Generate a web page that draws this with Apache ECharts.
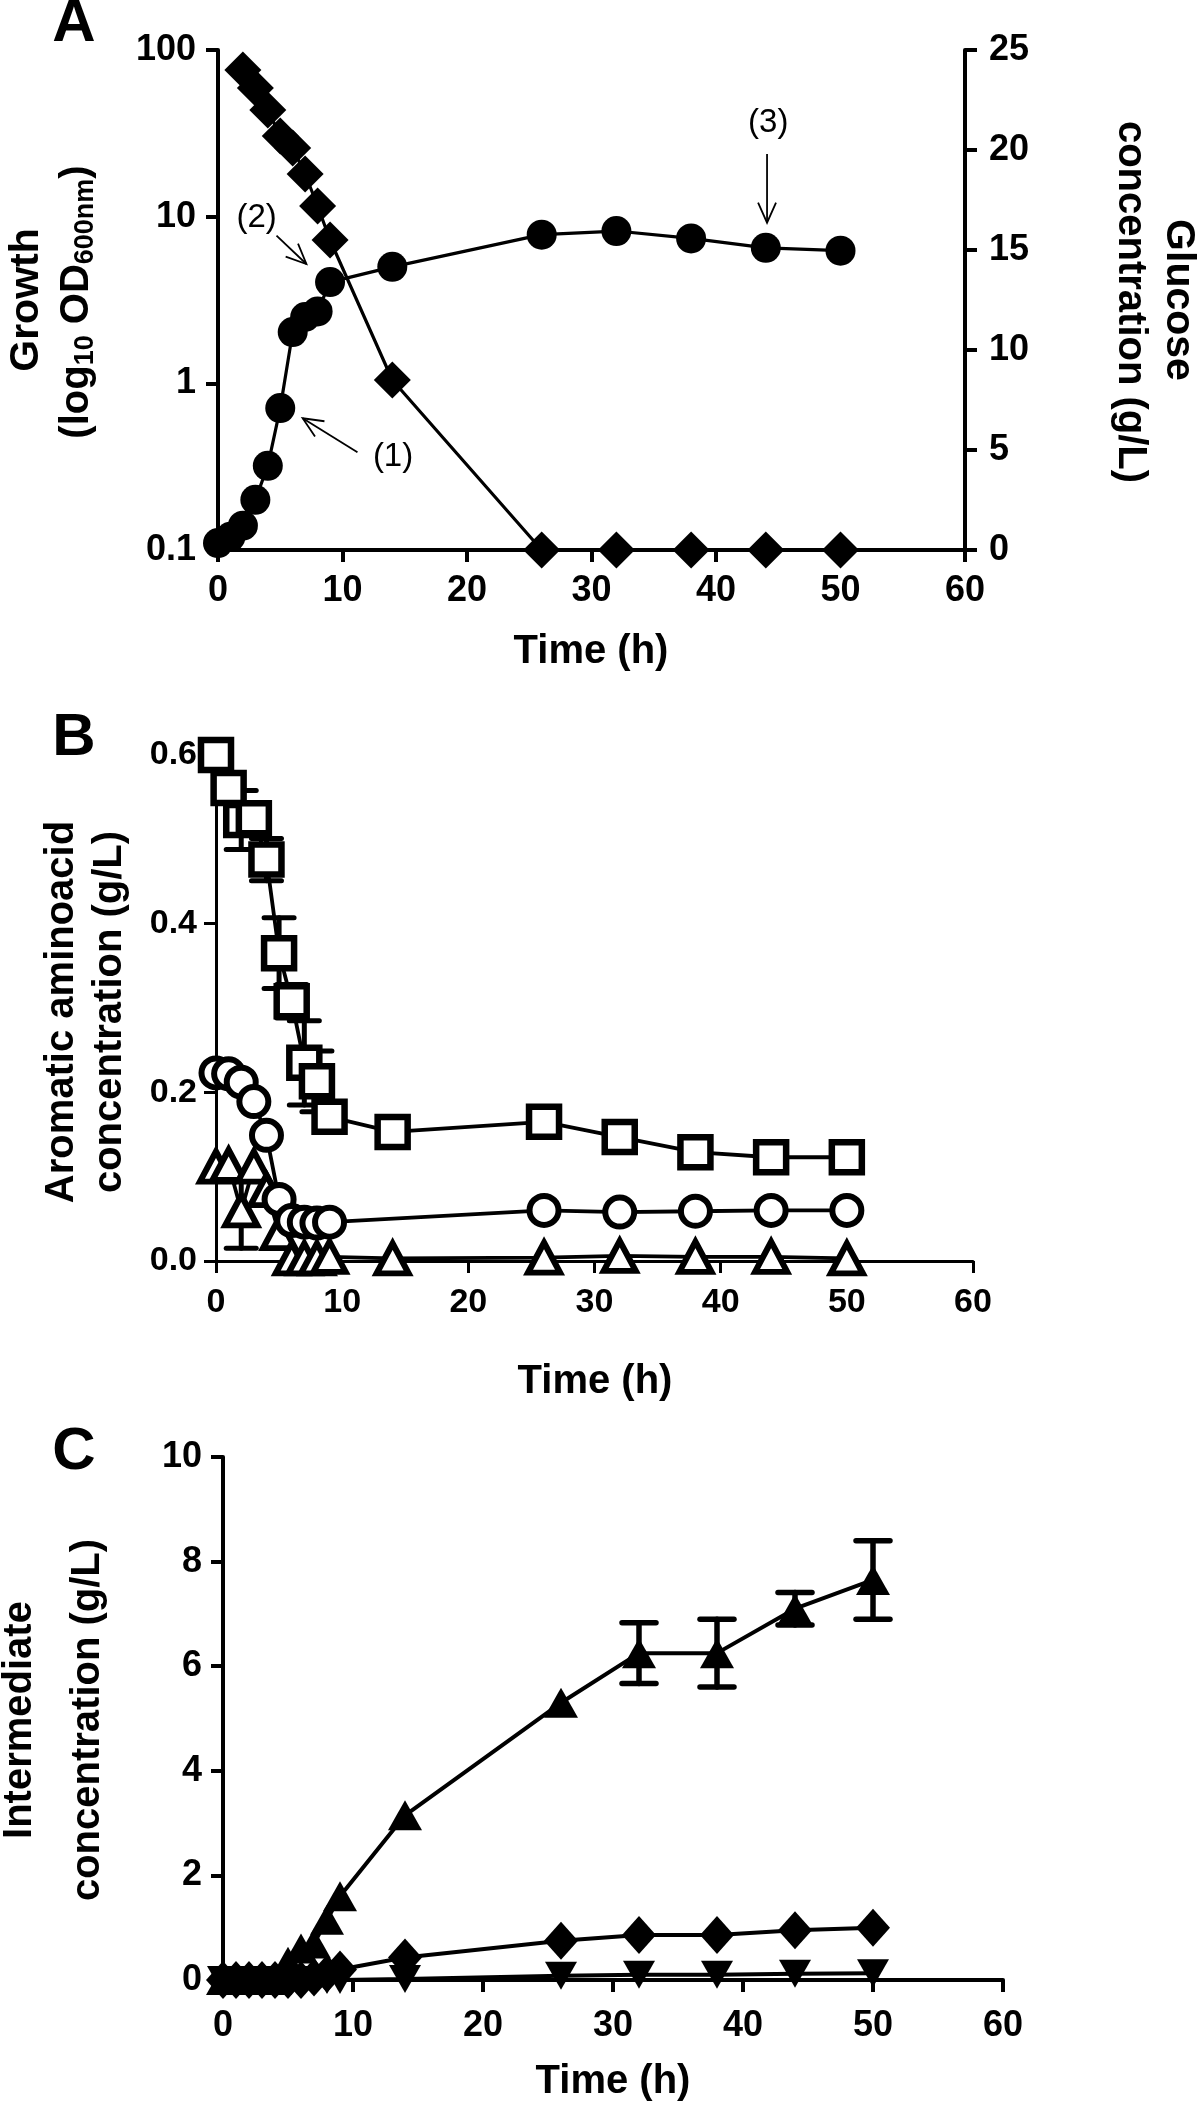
<!DOCTYPE html>
<html><head><meta charset="utf-8">
<script src="https://cdn.jsdelivr.net/npm/echarts@6/dist/echarts.min.js"></script>
<style>html,body{margin:0;padding:0;background:#fff}#c{width:1200px;height:2105px}</style>
</head><body><div id="c"></div>
<script>
// ---------- Panel A ----------
const timeGrowth = [0,1,2,3,4,5,6,7,8,9,14,26,32,38,44,50];
const growthOD   = [0.11,0.12,0.14,0.20,0.32,0.71,2.03,2.5,2.7,4.05,5.0,7.8,8.2,7.4,6.5,6.25];
const timeGlucose = [2,3,4,5,6,7,8,9,14,26,32,38,44,50];
const glucose     = [24.0,23.1,22.0,20.7,20.1,18.8,17.2,15.5,8.5,0,0,0,0,0];
const timeTicks = [0,10,20,30,40,50,60];
const growthTicks = [0.1,1,10,100];
const glucoseTicks = [0,5,10,15,20,25];
// annotations (data coords of the growth axis): label, text pos, arrow start, arrow end
const annotations = [
  {text:'(1)', at:[14.06,0.36], from:[11.2,0.386], to:[6.8,0.617]},
  {text:'(2)', at:[3.1,9.86],  from:[4.7,7.7],   to:[7.1,5.2]},
  {text:'(3)', at:[44.2,36.5], from:[44.1,23.8], to:[44.1,9.2]}
];
// ---------- Panel B ----------
const timeB = [0,1,2,3,4,5,6,7,8,9,14,26,32,38,44,50];
const squaresB = [0.600,0.561,0.523,0.525,0.476,0.365,0.308,0.235,0.213,0.171,0.153,0.165,0.147,0.129,0.123,0.123];
const squaresErr = [0,0,0.035,0,0.025,0.042,0.02,0.05,0.036,0,0,0.01,0,0,0,0];
const timeCircB = [0,1,2,3,4,5,6,7,8,9,26,32,38,44,50];
const circlesB = [0.223,0.222,0.212,0.189,0.149,0.073,0.048,0.046,0.045,0.046,0.060,0.058,0.059,0.060,0.060];
const trianglesB = [0.112,0.114,0.060,0.112,0.084,0.033,0.003,0.003,0.003,0.005,0.003,0.004,0.006,0.005,0.005,0.003];
const trianglesErr = [0,0,0.045,0,0,0,0,0,0,0,0,0,0,0,0,0];
const aromaTicks = [0,0.2,0.4,0.6];
// ---------- Panel C ----------
const timeC = [0,1,2,3,4,5,6,7,8,9,14,26,32,38,44,50];
const upTriC = [0,0,0,0,0,0.35,0.6,0.7,1.15,1.6,3.15,5.3,6.25,6.25,7.1,7.65];
const upTriErr = [0,0,0,0,0,0,0,0,0,0,0,0,0.58,0.65,0.31,0.75];
const diamondC = [0,0,0,0,0,0,0,0.05,0.12,0.2,0.43,0.75,0.86,0.86,0.95,1.0];
const downTriC = [0,0,0,0,0,0,0,0,0,0,0.02,0.08,0.1,0.1,0.12,0.13];
const interTicks = [0,2,4,6,8,10];

const FONT = '"Liberation Sans", Arial, sans-serif';
const zip = (a,b) => a.map((v,i)=>[v,b[i]]);

function valAxis(opts){
  const t = opts.ticks;
  const ax = {
    type: opts.type || 'value', gridIndex: opts.grid, position: opts.position,
    min: t[0], max: t[t.length-1],
    axisLine:{show:true, onZero:false, lineStyle:{color:'#000', width:opts.lw}},
    axisTick:{show:true, inside:false, length:12, lineStyle:{color:'#000', width:opts.lw}},
    axisLabel:{show:true, margin:opts.margin, color:'#000', fontFamily:FONT, fontWeight:'bold', fontSize:opts.fs,
      formatter: opts.fmt || (v => String(v))},
    splitLine:{show:false}, minorTick:{show:false}
  };
  if (ax.type === 'log') { ax.logBase = 10; } else { ax.interval = t[1]-t[0]; }
  return ax;
}

function lineSeries(x, y, data, sym, size, filled, bw, lw, extra){
  return Object.assign({
    type:'line', xAxisIndex:x, yAxisIndex:y, data, symbol:sym, symbolSize:size,
    showSymbol:true, clip:false, animation:false,
    lineStyle:{color:'#000', width:lw},
    itemStyle: filled ? {color:'#000', borderColor:'#000', borderWidth:0}
                      : {color:'#fff', borderColor:'#000', borderWidth:bw},
    emphasis:{disabled:true}
  }, extra||{});
}

function errSeries(x, y, times, vals, errs, capW, lw){
  const data = [];
  times.forEach((t,i)=>{ if (errs[i] > 0) data.push([t, vals[i]-errs[i], vals[i]+errs[i]]); });
  return {
    type:'custom', xAxisIndex:x, yAxisIndex:y, data, animation:false, clip:false,
    encode:{x:0, y:[1,2]},
    renderItem(params, api){
      const lo = api.coord([api.value(0), api.value(1)]);
      const hi = api.coord([api.value(0), api.value(2)]);
      const s = {stroke:'#000', lineWidth:lw, lineCap:'round'};
      return {type:'group', children:[
        {type:'line', shape:{x1:lo[0],y1:lo[1],x2:hi[0],y2:hi[1]}, style:s},
        {type:'line', shape:{x1:lo[0]-capW/2,y1:lo[1],x2:lo[0]+capW/2,y2:lo[1]}, style:s},
        {type:'line', shape:{x1:hi[0]-capW/2,y1:hi[1],x2:hi[0]+capW/2,y2:hi[1]}, style:s}
      ]};
    }
  };
}

function label(text, x, y, size, rot, extra){
  return Object.assign({type:'text', x, y, rotation: rot||0, silent:true,
    style:{text, fill:'#000', font:`bold ${size}px ${FONT}`, textAlign:'center', textVerticalAlign:'middle'}}, extra||{});
}

const chart = echarts.init(document.getElementById('c'), null, {renderer:'canvas'});
const option = {
  animation:false,
  backgroundColor:'#fff',
  grid:[
    {left:218, top:50, width:747, height:500},
    {left:216, top:755, width:757, height:506},
    {left:223, top:1457, width:780, height:523}
  ],
  xAxis:[
    valAxis({grid:0, ticks:timeTicks, lw:4, fs:36, margin:23}),
    valAxis({grid:1, ticks:timeTicks, lw:3, fs:34, margin:25}),
    valAxis({grid:2, ticks:timeTicks, lw:4, fs:36, margin:28})
  ],
  yAxis:[
    valAxis({grid:0, type:'log', ticks:growthTicks, lw:4, fs:36, margin:22, position:'left'}),
    valAxis({grid:0, ticks:glucoseTicks, lw:4, fs:36, margin:24, position:'right'}),
    valAxis({grid:1, ticks:aromaTicks, lw:3, fs:34, margin:19, position:'left', fmt:v=>v.toFixed(1)}),
    valAxis({grid:2, ticks:interTicks, lw:4, fs:36, margin:21, position:'left'})
  ],
  series:[
    lineSeries(0,0, zip(timeGrowth,growthOD), 'circle', 30, true, 0, 3.2),
    lineSeries(0,1, zip(timeGlucose,glucose), 'diamond', 37, true, 0, 3.2),
    errSeries(1,2, timeB, squaresB, squaresErr, 30, 5),
    errSeries(1,2, timeB, trianglesB, trianglesErr, 30, 5),
    lineSeries(1,2, zip(timeB,trianglesB), 'triangle', [32,30], false, 6, 3.8),
    lineSeries(1,2, zip(timeCircB,circlesB), 'circle', 29, false, 6, 3.8),
    lineSeries(1,2, zip(timeB,squaresB), 'rect', 30, false, 6.5, 3.8),
    lineSeries(2,3, zip(timeC,downTriC), 'triangle', [32,28], true, 0, 4, {symbolRotate:180}),
    lineSeries(2,3, zip(timeC,diamondC), 'diamond', [34,38], true, 0, 4),
    errSeries(2,3, timeC, upTriC, upTriErr, 34, 5.5),
    lineSeries(2,3, zip(timeC,upTriC), 'triangle', [34,30], true, 0, 4)
  ]
};
chart.setOption(option);

// ----- titles, panel letters and annotations -----
const g = [
  label('A', 74, 24, 60),
  label('B', 74, 738, 60),
  label('C', 74, 1452, 60),
  label('Time (h)', 591, 652, 40),
  label('Time (h)', 595, 1382, 40),
  label('Time (h)', 613, 2082, 40),
  label('Growth', 27, 300, 41, Math.PI/2),
  {type:'text', x:77, y:302, rotation:Math.PI/2, silent:true,
    style:{text:'(log{sub|10} OD{sub|600nm})', fill:'#000', font:`bold 40px ${FONT}`,
      textAlign:'center', textVerticalAlign:'middle',
      rich:{sub:{font:`bold 27px ${FONT}`, fill:'#000', padding:[17,0,0,0]}}}},
  label('Glucose', 1178, 300, 41, -Math.PI/2),
  label('concentration (g/L)', 1130, 302, 40, -Math.PI/2),
  label('Aromatic aminoacid', 62, 1012, 40, Math.PI/2),
  label('concentration (g/L)', 110, 1012, 40, Math.PI/2),
  label('Intermediate', 20, 1720, 40, Math.PI/2),
  label('concentration (g/L)', 88, 1720, 40, Math.PI/2)
];
annotations.forEach(a=>{
  const p = chart.convertToPixel({seriesIndex:0}, a.at);
  const f = chart.convertToPixel({seriesIndex:0}, a.from);
  const t = chart.convertToPixel({seriesIndex:0}, a.to);
  g.push({type:'text', x:p[0], y:p[1], silent:true,
    style:{text:a.text, fill:'#000', font:`33px ${FONT}`, textAlign:'center', textVerticalAlign:'middle'}});
  const s = {stroke:'#000', lineWidth:1.8, fill:null};
  g.push({type:'line', silent:true, shape:{x1:f[0],y1:f[1],x2:t[0],y2:t[1]}, style:s});
  const ang = Math.atan2(f[1]-t[1], f[0]-t[0]);
  const L = 22, da = 0.42;
  g.push({type:'polyline', silent:true, shape:{points:[
    [t[0]+L*Math.cos(ang+da), t[1]+L*Math.sin(ang+da)], [t[0],t[1]],
    [t[0]+L*Math.cos(ang-da), t[1]+L*Math.sin(ang-da)]]}, style:s});
});
chart.setOption({graphic:g});
</script></body></html>
